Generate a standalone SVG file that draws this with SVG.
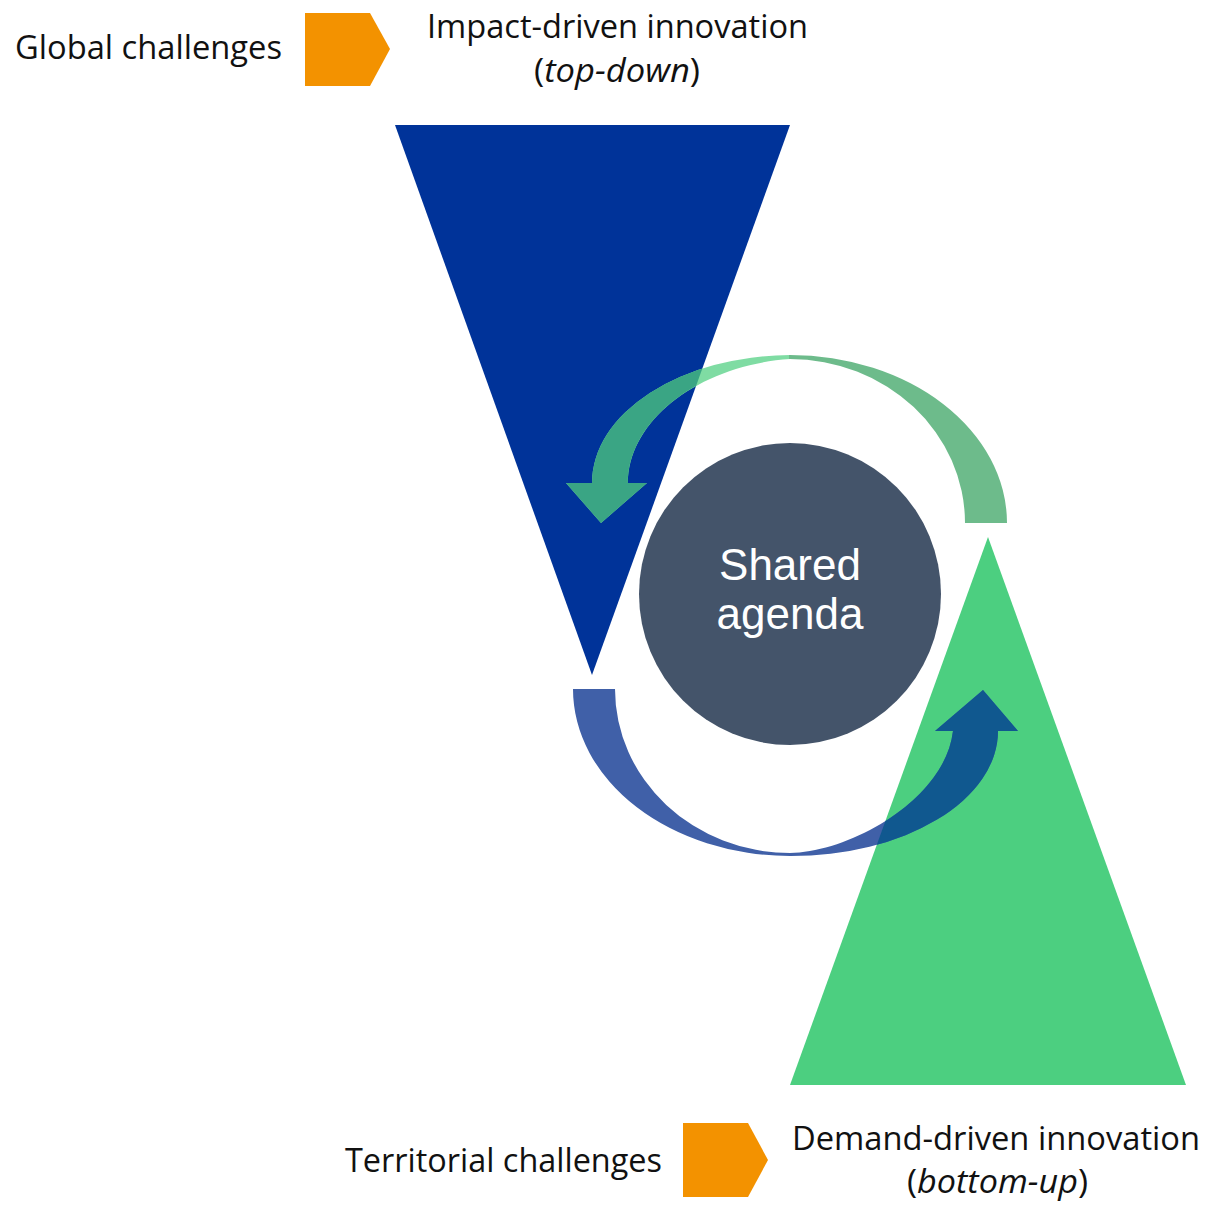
<svg xmlns="http://www.w3.org/2000/svg" width="1208" height="1206" viewBox="0 0 1208 1206">
<style>
.lbl{font-family:"Open Sans","Liberation Sans",sans-serif;font-size:33px;fill:#111}
.ctr{font-family:"Liberation Sans",Arial,sans-serif;font-size:44px;fill:#fff;text-anchor:middle}
.orange{fill:#f39200}
</style>
<defs>
<path id="garc" d="M1007 523 A217 168 0 0 0 790 355 A200 128 0 0 0 592 483 L566 483 L601 523 L647 483 L628 483 C628 420 700 365 790 359 A175 164 0 0 1 965 523 Z"/>
<path id="barc" d="M573 689 A217 167 0 0 0 790 856 A207 125 0 0 0 998 731 L1018 731 L983 690 L935 731 L953 731 C945 800 850 852 790 853 A175 164 0 0 1 615 689 Z"/>
<clipPath id="clipBlueTri"><polygon points="395,125 790,125 592,675"/></clipPath>
<clipPath id="clipGreenTri"><polygon points="988,537 1186,1085 790,1085"/></clipPath>
<linearGradient id="gg" gradientUnits="userSpaceOnUse" x1="560" y1="0" x2="1010" y2="0">
<stop offset="0" stop-color="#7fdca3"/><stop offset="0.51" stop-color="#7fdca3"/><stop offset="0.51" stop-color="#6dbb8b"/><stop offset="1" stop-color="#6dbb8b"/>
</linearGradient>
</defs>
<g id="blue-triangle"><polygon points="395,125 790,125 592,675" fill="#003399"/></g>
<g id="green-triangle"><polygon points="988,537 1186,1085 790,1085" fill="#4ccf80"/></g>
<g id="connectors">
<use href="#garc" fill="url(#gg)"/>
<use href="#garc" fill="#3aa584" clip-path="url(#clipBlueTri)"/>
<use href="#barc" fill="#4060a8"/>
<use href="#barc" fill="#10588f" clip-path="url(#clipGreenTri)"/>
</g>
<g id="shared-agenda">
<circle cx="790" cy="594" r="151" fill="#44546a"/>
<text class="ctr" x="790" y="580">Shared</text>
<text class="ctr" x="790" y="629">agenda</text>
</g>
<g id="global-challenges">
<text class="lbl" x="15" y="59" textLength="267" lengthAdjust="spacingAndGlyphs">Global challenges</text>
</g>
<g id="arrow-top"><polygon class="orange" points="305,13 370,13 390,49 370,86 305,86"/></g>
<g id="impact-driven">
<text class="lbl" x="427" y="38" textLength="381" lengthAdjust="spacingAndGlyphs">Impact-driven innovation</text>
<text class="lbl" x="534" y="82" textLength="166" lengthAdjust="spacingAndGlyphs">(<tspan font-style="italic">top-down</tspan>)</text>
</g>
<g id="territorial-challenges">
<text class="lbl" x="345" y="1172" textLength="317" lengthAdjust="spacingAndGlyphs">Territorial challenges</text>
</g>
<g id="arrow-bottom"><polygon class="orange" points="683,1123 748,1123 768,1160 748,1197 683,1197"/></g>
<g id="demand-driven">
<text class="lbl" x="792" y="1150" textLength="408" lengthAdjust="spacingAndGlyphs">Demand-driven innovation</text>
<text class="lbl" x="907" y="1193" textLength="181" lengthAdjust="spacingAndGlyphs">(<tspan font-style="italic">bottom-up</tspan>)</text>
</g>
</svg>
